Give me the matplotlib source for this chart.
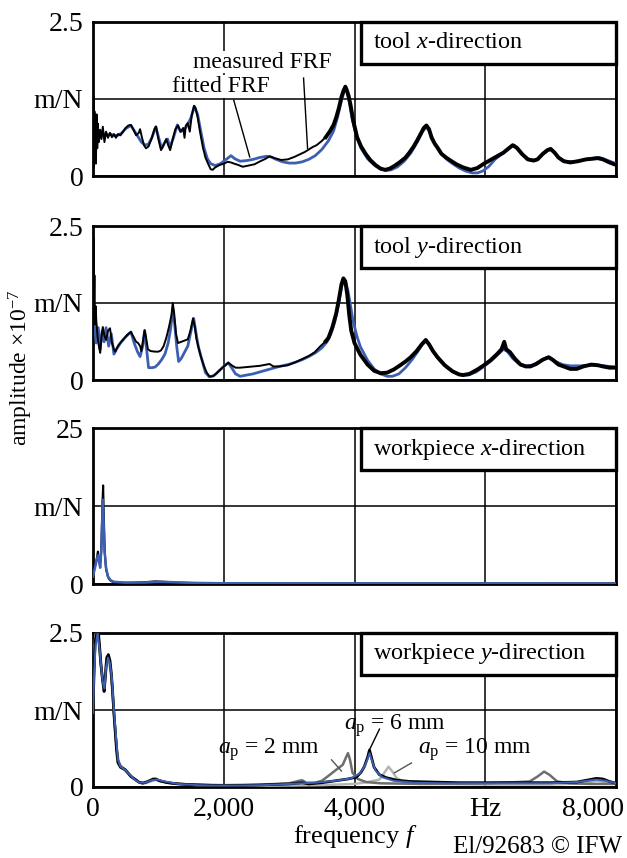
import numpy as np
import matplotlib
matplotlib.use("Agg")
import matplotlib.pyplot as plt
from matplotlib.patches import Rectangle

plt.rcParams['font.family'] = ['Liberation Serif', 'DejaVu Serif']
plt.rcParams['mathtext.fontset'] = 'custom'
plt.rcParams['mathtext.rm'] = 'Liberation Serif'
plt.rcParams['mathtext.it'] = 'Liberation Serif:italic'

# tool x-direction
tx_meas_f = [0, 8, 15, 22, 30, 38, 45, 55, 65, 75, 90, 110, 130, 150, 175, 200, 230, 260, 290, 320, 350, 380, 420, 460, 500, 540,
             580, 620, 660, 700, 720, 750, 780, 810, 850, 900, 940, 965, 1000, 1040, 1080, 1120, 1150, 1180, 1220, 1260, 1300,
             1340, 1380, 1400, 1420, 1450, 1480, 1510, 1545, 1570, 1600, 1640, 1680, 1720, 1760, 1800, 1830, 1870, 1940, 2000,
             2060, 2110, 2160, 2220, 2290, 2380, 2470, 2560, 2640, 2700, 2780, 2880, 2980, 3080, 3160, 3240, 3300, 3360, 3420,
             3490, 3560, 3620, 3680, 3720, 3760, 3800, 3830, 3860, 3880, 3910, 3940, 3980, 4040, 4100, 4170, 4240, 4330, 4400,
             4470, 4540, 4620, 4700, 4780, 4840, 4900, 4960, 5020, 5060, 5100, 5140, 5180, 5230, 5270, 5330, 5400, 5470, 5560,
             5660, 5780, 5880, 5980, 6080, 6180, 6280, 6360, 6420, 6480, 6560, 6650, 6740, 6800, 6880, 6950, 7000, 7060, 7120,
             7200, 7300, 7420, 7540, 7640, 7720, 7800, 7900, 8000]
tx_meas_a = [0.35, 1.3, 0.15, 1.05, 0.3, 0.9, 0.2, 1.0, 0.45, 0.85, 0.55, 0.75, 0.6, 0.8, 0.55, 0.72, 0.62, 0.7, 0.63, 0.68, 0.62,
             0.68, 0.66, 0.72, 0.78, 0.82, 0.83, 0.75, 0.66, 0.7, 0.76, 0.62, 0.5, 0.45, 0.48, 0.62, 0.76, 0.8, 0.6, 0.42, 0.5,
             0.6, 0.5, 0.42, 0.6, 0.76, 0.82, 0.72, 0.78, 0.62, 0.82, 0.86, 0.72, 0.98, 1.14, 1.1, 0.96, 0.7, 0.47, 0.3, 0.2,
             0.11, 0.1, 0.14, 0.18, 0.2, 0.23, 0.22, 0.2, 0.18, 0.15, 0.17, 0.19, 0.24, 0.28, 0.32, 0.29, 0.26, 0.27, 0.31,
             0.35, 0.39, 0.43, 0.47, 0.5, 0.56, 0.63, 0.72, 0.83, 0.95, 1.1, 1.28, 1.38, 1.45, 1.4, 1.3, 1.15, 0.9, 0.63, 0.48,
             0.36, 0.26, 0.17, 0.12, 0.1, 0.12, 0.17, 0.23, 0.3, 0.38, 0.47, 0.58, 0.7, 0.78, 0.82, 0.76, 0.62, 0.52, 0.46,
             0.36, 0.3, 0.25, 0.19, 0.14, 0.1, 0.13, 0.2, 0.26, 0.32, 0.38, 0.45, 0.5, 0.46, 0.36, 0.27, 0.25, 0.27, 0.36,
             0.42, 0.44, 0.38, 0.3, 0.24, 0.22, 0.24, 0.27, 0.28, 0.29, 0.27, 0.22, 0.18]
tx_fit_f = [0, 30, 60, 100, 150, 200, 260, 320, 380, 440, 500, 580, 640, 700, 740, 800, 850, 900, 960, 1010, 1050, 1100, 1140,
            1180, 1230, 1290, 1340, 1390, 1440, 1500, 1550, 1600, 1650, 1700, 1750, 1800, 1870, 1950, 2050, 2110, 2170, 2250,
            2350, 2450, 2550, 2650, 2720, 2800, 2900, 3000, 3100, 3200, 3300, 3400, 3500, 3600, 3680, 3740, 3800, 3850, 3880,
            3920, 3960, 4020, 4100, 4200, 4300, 4400, 4480, 4560, 4660, 4760, 4860, 4960, 5040, 5100, 5150, 5220, 5300, 5400,
            5500, 5600, 5700, 5800, 5880, 5960, 6050, 6150, 6280, 6400, 6440, 6500, 6580, 6680, 6780, 6880, 6980, 7040, 7120,
            7220, 7360, 7500, 7650, 7750, 7880, 8000]
tx_fit_a = [0.6, 0.75, 0.6, 0.72, 0.7, 0.66, 0.68, 0.66, 0.66, 0.7, 0.77, 0.82, 0.72, 0.62, 0.55, 0.5, 0.52, 0.62, 0.8, 0.6, 0.45,
            0.55, 0.6, 0.47, 0.62, 0.83, 0.72, 0.75, 0.82, 0.95, 1.13, 1.0, 0.72, 0.45, 0.28, 0.2, 0.17, 0.2, 0.28, 0.33, 0.28,
            0.24, 0.25, 0.27, 0.3, 0.32, 0.31, 0.27, 0.23, 0.21, 0.21, 0.23, 0.27, 0.33, 0.43, 0.57, 0.73, 0.95, 1.22, 1.4, 1.38,
            1.2, 0.95, 0.68, 0.45, 0.28, 0.18, 0.11, 0.09, 0.1, 0.15, 0.24, 0.37, 0.55, 0.72, 0.8, 0.72, 0.54, 0.4, 0.28, 0.2,
            0.13, 0.08, 0.05, 0.05, 0.08, 0.15, 0.27, 0.38, 0.48, 0.5, 0.45, 0.34, 0.26, 0.26, 0.35, 0.43, 0.4, 0.3, 0.24, 0.23,
            0.26, 0.29, 0.3, 0.25, 0.2]

# tool y-direction
ty_meas_f = [0, 8, 15, 22, 30, 40, 50, 70, 90, 110, 130, 150, 175, 200, 230, 260, 290, 320, 340, 380, 430, 480, 530, 580, 620,
             660, 690, 720, 740, 760, 790, 810, 840, 880, 950, 1000, 1040, 1080, 1120, 1160, 1200, 1220, 1240, 1270, 1300, 1350,
             1400, 1450, 1490, 1530, 1560, 1580, 1620, 1650, 1700, 1740, 1780, 1830, 1880, 1940, 2000, 2070, 2120, 2180, 2250,
             2350, 2450, 2550, 2650, 2700, 2760, 2850, 2980, 3100, 3200, 3300, 3390, 3480, 3560, 3600, 3660, 3720, 3760, 3800,
             3830, 3860, 3890, 3920, 3950, 4000, 4090, 4200, 4300, 4400, 4500, 4600, 4700, 4780, 4860, 4950, 5030, 5090, 5140,
             5200, 5270, 5380, 5500, 5600, 5660, 5760, 5880, 5980, 6080, 6180, 6250, 6290, 6320, 6380, 6450, 6540, 6620, 6690,
             6780, 6880, 6970, 7040, 7120, 7200, 7300, 7400, 7500, 7620, 7720, 7800, 7900, 8000]
ty_meas_a = [0.6, 2.3, 1.2, 1.7, 0.9, 1.2, 0.97, 0.7, 0.55, 0.44, 0.7, 0.86, 0.72, 0.65, 0.8, 0.84, 0.6, 0.5, 0.46, 0.55, 0.62,
             0.68, 0.74, 0.78, 0.7, 0.62, 0.6, 0.55, 0.47, 0.6, 0.81, 0.7, 0.5, 0.47, 0.46, 0.46, 0.48, 0.55, 0.68, 0.85, 1.05,
             1.25, 1.1, 0.75, 0.6, 0.62, 0.64, 0.66, 0.8, 1.0, 0.85, 0.68, 0.5, 0.38, 0.22, 0.12, 0.06, 0.06, 0.1, 0.16, 0.22,
             0.28, 0.24, 0.2, 0.2, 0.21, 0.22, 0.23, 0.25, 0.26, 0.22, 0.22, 0.24, 0.29, 0.34, 0.39, 0.45, 0.55, 0.63, 0.68, 0.85,
             1.08, 1.3, 1.55, 1.65, 1.6, 1.38, 1.05, 0.8, 0.6, 0.41, 0.25, 0.15, 0.11, 0.12, 0.17, 0.24, 0.3, 0.37, 0.47, 0.58,
             0.65, 0.58, 0.47, 0.37, 0.24, 0.14, 0.09, 0.08, 0.1, 0.17, 0.24, 0.32, 0.42, 0.5, 0.62, 0.5, 0.45, 0.35, 0.25, 0.22,
             0.22, 0.26, 0.33, 0.37, 0.32, 0.25, 0.22, 0.18, 0.18, 0.22, 0.25, 0.24, 0.22, 0.2, 0.2]
ty_fit_f = [0, 20, 50, 80, 110, 140, 170, 200, 240, 280, 320, 360, 420, 500, 580, 630, 680, 720, 760, 790, 820, 850, 900, 950,
            1000, 1050, 1100, 1150, 1190, 1220, 1250, 1280, 1310, 1350, 1400, 1450, 1500, 1540, 1570, 1610, 1660, 1720, 1780,
            1850, 1920, 2000, 2070, 2120, 2180, 2250, 2350, 2450, 2550, 2650, 2750, 2850, 2980, 3100, 3200, 3300, 3400, 3500,
            3580, 3640, 3700, 3750, 3800, 3830, 3860, 3900, 3940, 3980, 4040, 4090, 4200, 4300, 4400, 4500, 4580, 4680, 4780,
            4880, 4960, 5040, 5100, 5150, 5220, 5300, 5420, 5540, 5640, 5740, 5860, 5980, 6100, 6200, 6280, 6340, 6420, 6520,
            6620, 6720, 6830, 6940, 7000, 7080, 7180, 7300, 7450, 7600, 7750, 7900, 8000]
ty_fit_a = [1.1, 0.9, 0.6, 0.85, 0.5, 0.8, 0.62, 0.85, 0.55, 0.75, 0.42, 0.5, 0.6, 0.7, 0.78, 0.6, 0.46, 0.38, 0.55, 0.8, 0.5,
            0.2, 0.2, 0.21, 0.26, 0.33, 0.42, 0.6, 0.85, 1.15, 0.9, 0.55, 0.3, 0.35, 0.45, 0.55, 0.8, 1.0, 0.8, 0.55, 0.35, 0.12,
            0.05, 0.07, 0.14, 0.22, 0.28, 0.2, 0.1, 0.06, 0.08, 0.1, 0.13, 0.16, 0.19, 0.22, 0.25, 0.29, 0.33, 0.38, 0.44, 0.52,
            0.62, 0.75, 0.95, 1.2, 1.5, 1.63, 1.6, 1.45, 1.2, 0.95, 0.7, 0.54, 0.32, 0.18, 0.1, 0.06, 0.06, 0.1, 0.2, 0.33, 0.45,
            0.58, 0.64, 0.56, 0.44, 0.32, 0.2, 0.12, 0.08, 0.08, 0.13, 0.22, 0.32, 0.42, 0.5, 0.46, 0.35, 0.26, 0.23, 0.24, 0.3,
            0.36, 0.36, 0.3, 0.25, 0.23, 0.23, 0.24, 0.24, 0.22, 0.21]

# workpiece x-direction
wx_meas_f = [0, 20, 40, 60, 75, 90, 107, 125, 145, 155, 165, 180, 200, 230, 260, 300, 400, 600, 800, 950, 1100, 1300, 1600, 2000,
             3000, 4000, 5000, 6000, 7000, 8000]
wx_meas_a = [1.5, 2.5, 3.2, 4.2, 5.2, 4.0, 3.0, 5.0, 13.0, 15.8, 11.0, 5.0, 2.3, 1.1, 0.6, 0.35, 0.2, 0.2, 0.3, 0.42, 0.35, 0.22,
             0.15, 0.12, 0.1, 0.1, 0.1, 0.1, 0.1, 0.1]
wx_fit_f = [0, 30, 60, 78, 95, 110, 130, 150, 160, 175, 200, 230, 270, 320, 500, 800, 1000, 1200, 1500, 2000, 4000, 8000]
wx_fit_a = [1.2, 2.6, 4.0, 4.6, 3.5, 2.6, 6.0, 13.5, 10.5, 5.5, 2.6, 1.2, 0.6, 0.35, 0.22, 0.25, 0.35, 0.3, 0.18, 0.12, 0.1, 0.08]

# workpiece y-direction, depth of cut ap = 2, 6, 10 mm and fit
wy6_f = [0, 15, 30, 50, 75, 100, 120, 145, 170, 190, 210, 235, 260, 280, 300, 320, 340, 360, 380, 420, 490, 540, 580, 650, 700,
         760, 840, 920, 960, 1020, 1140, 1300, 1450, 1700, 2000, 2500, 3000, 3200, 3300, 3500, 3700, 3900, 4030, 4100, 4150,
         4200, 4230, 4260, 4300, 4380, 4490, 4650, 4840, 5200, 5600, 6000, 6500, 7000, 7400, 7600, 7700, 7800, 7900, 8000]
wy6_a = [1.3, 1.8, 2.35, 2.45, 2.6, 2.3, 2.0, 1.75, 1.55, 1.8, 2.1, 2.15, 2.05, 1.85, 1.55, 1.2, 0.9, 0.6, 0.4, 0.32, 0.28, 0.22,
         0.17, 0.12, 0.08, 0.06, 0.09, 0.13, 0.13, 0.1, 0.07, 0.05, 0.04, 0.03, 0.02, 0.03, 0.05, 0.07, 0.05, 0.07, 0.1, 0.13,
         0.16, 0.24, 0.33, 0.48, 0.6, 0.48, 0.32, 0.2, 0.15, 0.11, 0.09, 0.08, 0.07, 0.07, 0.07, 0.07, 0.08, 0.12, 0.14, 0.13,
         0.09, 0.06]
wy_fit_f = [0, 20, 40, 70, 100, 125, 150, 175, 200, 230, 260, 290, 320, 350, 380, 420, 500, 580, 650, 720, 800, 900, 980, 1100,
            1300, 1600, 2000, 2600, 3000, 3400, 3700, 3950, 4080, 4150, 4200, 4230, 4270, 4320, 4420, 4600, 4900, 5400, 6000,
            6600, 7000, 7400, 7700, 7850, 8000]
wy_fit_a = [1.2, 1.9, 2.3, 2.5, 2.25, 1.95, 1.7, 1.6, 1.95, 2.1, 2.0, 1.75, 1.25, 0.85, 0.45, 0.33, 0.27, 0.18, 0.11, 0.07, 0.07,
            0.11, 0.12, 0.09, 0.05, 0.03, 0.02, 0.03, 0.05, 0.07, 0.1, 0.14, 0.22, 0.33, 0.45, 0.55, 0.42, 0.27, 0.16, 0.1, 0.07,
            0.06, 0.06, 0.06, 0.06, 0.08, 0.12, 0.1, 0.06]
wy2_f = [0, 20, 40, 70, 100, 125, 150, 175, 200, 230, 260, 290, 320, 350, 380, 420, 500, 560, 640, 720, 800, 900, 960, 1050, 1200,
         1500, 2000, 2600, 3000, 3150, 3200, 3260, 3400, 3500, 3600, 3720, 3820, 3870, 3900, 3930, 3970, 4050, 4180, 4400, 5000,
         6000, 6500, 6680, 6800, 6900, 6980, 7100, 7300, 7600, 8000]
wy2_a = [1.5, 2.1, 2.4, 2.55, 2.25, 1.95, 1.7, 1.62, 2.0, 2.12, 2.0, 1.7, 1.2, 0.8, 0.45, 0.34, 0.28, 0.2, 0.12, 0.07, 0.07, 0.11,
         0.12, 0.09, 0.06, 0.04, 0.03, 0.04, 0.06, 0.1, 0.11, 0.07, 0.07, 0.1, 0.18, 0.28, 0.36, 0.48, 0.55, 0.45, 0.23, 0.13,
         0.08, 0.06, 0.05, 0.06, 0.08, 0.09, 0.17, 0.25, 0.2, 0.09, 0.06, 0.05, 0.05]
wy10_f = [0, 20, 45, 80, 100, 130, 160, 190, 220, 250, 280, 310, 340, 370, 400, 460, 520, 600, 700, 800, 900, 980, 1100, 1300,
          1600, 2500, 3500, 4000, 4200, 4380, 4450, 4520, 4580, 4640, 4750, 5000, 6000, 7000, 7500, 7700, 7850, 8000]
wy10_a = [1.7, 2.3, 2.5, 2.45, 2.2, 1.9, 1.68, 1.85, 2.05, 2.0, 1.8, 1.35, 0.9, 0.55, 0.38, 0.3, 0.25, 0.16, 0.08, 0.06, 0.1,
          0.12, 0.08, 0.05, 0.03, 0.02, 0.03, 0.05, 0.08, 0.12, 0.22, 0.33, 0.25, 0.15, 0.08, 0.05, 0.04, 0.04, 0.06, 0.1, 0.08,
          0.05]

panel_titles = ["tool $\\it{x}$-direction", "tool $\\it{y}$-direction",
                "workpiece $\\it{x}$-direction", "workpiece $\\it{y}$-direction"]
y_tops = [2.5, 2.5, 25, 2.5]
x_ticks = [0, 2000, 4000, 6000, 8000]
x_ticklabels = ["0", "2,000", "4,000", "Hz", "8,000"]

blue = '#3d5fb3'
W, H = 627, 858
fig = plt.figure(figsize=(W / 100, H / 100), dpi=100)

# panel top/bottom in pixels
panel_px = [(22, 176), (226, 380), (428, 584), (633, 787)]
left_px, right_px = 93, 616
axes = []
for (top, bot) in panel_px:
    ax = fig.add_axes([left_px / W, 1 - bot / H, (right_px - left_px) / W, (bot - top) / H])
    axes.append(ax)

for i, ax in enumerate(axes):
    top = y_tops[i]
    ax.set_xlim(0, 8000)
    ax.set_ylim(0, top)
    ax.set_xticks(x_ticks)
    ax.set_yticks([0, top / 2, top])
    ax.set_yticklabels(["0", "m/N", "2.5" if top == 2.5 else "25"])
    ax.tick_params(length=0, labelsize=20, pad=7)
    ax.grid(True, color='black', lw=1.1)
    ax.set_axisbelow(True)
    for s in ax.spines.values():
        s.set_linewidth(2.0)
    if i < 3:
        ax.set_xticklabels([])
    else:
        # last label is drawn separately so it stays inside the figure
        ax.set_xticklabels(x_ticklabels[:-1] + [""])
    bh = 42 / (panel_px[i][1] - panel_px[i][0])
    ax.add_patch(Rectangle((0.513, 1 - bh), 0.487, bh, transform=ax.transAxes, fc='white', ec='black',
                           lw=2.4, zorder=5, clip_on=False))
    ax.text(0.535, 1 - bh / 2, panel_titles[i], transform=ax.transAxes, fontsize=17.5, va='center', ha='left', zorder=6)

ax1, ax2, ax3, ax4 = axes
for ax, mf, ma, ff, fa in [(ax1, tx_meas_f, tx_meas_a, tx_fit_f, tx_fit_a), (ax2, ty_meas_f, ty_meas_a, ty_fit_f, ty_fit_a)]:
    ax.plot(ff, fa, color=blue, lw=2.0, zorder=3)
    ax.plot(mf, ma, color='black', lw=1.4, zorder=4)
    # measured signal is noisy above ~3.5 kHz: draw that part heavier
    mf_arr, ma_arr = np.array(mf), np.array(ma)
    hi = mf_arr >= 3500
    ax.plot(mf_arr[hi], ma_arr[hi], color='black', lw=2.8, zorder=4)
ax3.plot(wx_meas_f, wx_meas_a, color='black', lw=1.5, zorder=3)
ax3.plot(wx_fit_f, wx_fit_a, color=blue, lw=1.8, zorder=4)
ax4.plot(wy10_f, wy10_a, color='#b5b5b5', lw=1.8, zorder=3)
ax4.plot(wy2_f, wy2_a, color='#6e6e6e', lw=1.8, zorder=3)
ax4.plot(wy6_f, wy6_a, color='black', lw=2.0, zorder=4)
ax4.plot(wy_fit_f, wy_fit_a, color=blue, lw=1.4, zorder=4)

ax4.annotate(x_ticklabels[-1], xy=(1, 0), xycoords='axes fraction', xytext=(6, -7), textcoords='offset points',
             ha='right', va='top', fontsize=20)

# annotations
ax1.text(1527, 1.85, "measured FRF", fontsize=17, va='center', ha='left', zorder=6,
         bbox=dict(fc='white', ec='none', pad=0.5))
ax1.text(1206, 1.45, "fitted FRF", fontsize=17, va='center', ha='left', zorder=6,
         bbox=dict(fc='white', ec='none', pad=0.5))
ax1.plot([2153, 2397], [1.23, 0.31], color='black', lw=1.0, zorder=6)
ax1.plot([3221, 3282], [1.59, 0.45], color='black', lw=1.0, zorder=6)

ax4.text(1908, 0.6, "$\\it{a}_\\mathrm{p}$ = 2 mm", fontsize=17, va='center', ha='left', zorder=6)
ax4.text(3847, 1.0, "$\\it{a}_\\mathrm{p}$ = 6 mm", fontsize=17, va='center', ha='left', zorder=6)
ax4.text(4977, 0.6, "$\\it{a}_\\mathrm{p}$ = 10 mm", fontsize=17, va='center', ha='left', zorder=6)
ax4.plot([3649, 3800], [0.44, 0.26], color='#555555', lw=1.0, zorder=6)
ax4.plot([4382, 4214], [0.94, 0.57], color='black', lw=1.0, zorder=6)
ax4.plot([4870, 4611], [0.39, 0.23], color='#555555', lw=1.0, zorder=6)

fig.text(21 / W, 1 - 368 / H, "amplitude $\\times$10$^{-7}$", rotation=90, fontsize=17, ha='center', va='center')
fig.text(355 / W, 1 - 837 / H, "frequency $\\it{f}$", fontsize=19, ha='center', va='center')
fig.text(622 / W, 1 - 847 / H, "El/92683 © IFW", fontsize=18, ha='right', va='center')

fig.savefig("out.png", dpi=100)
